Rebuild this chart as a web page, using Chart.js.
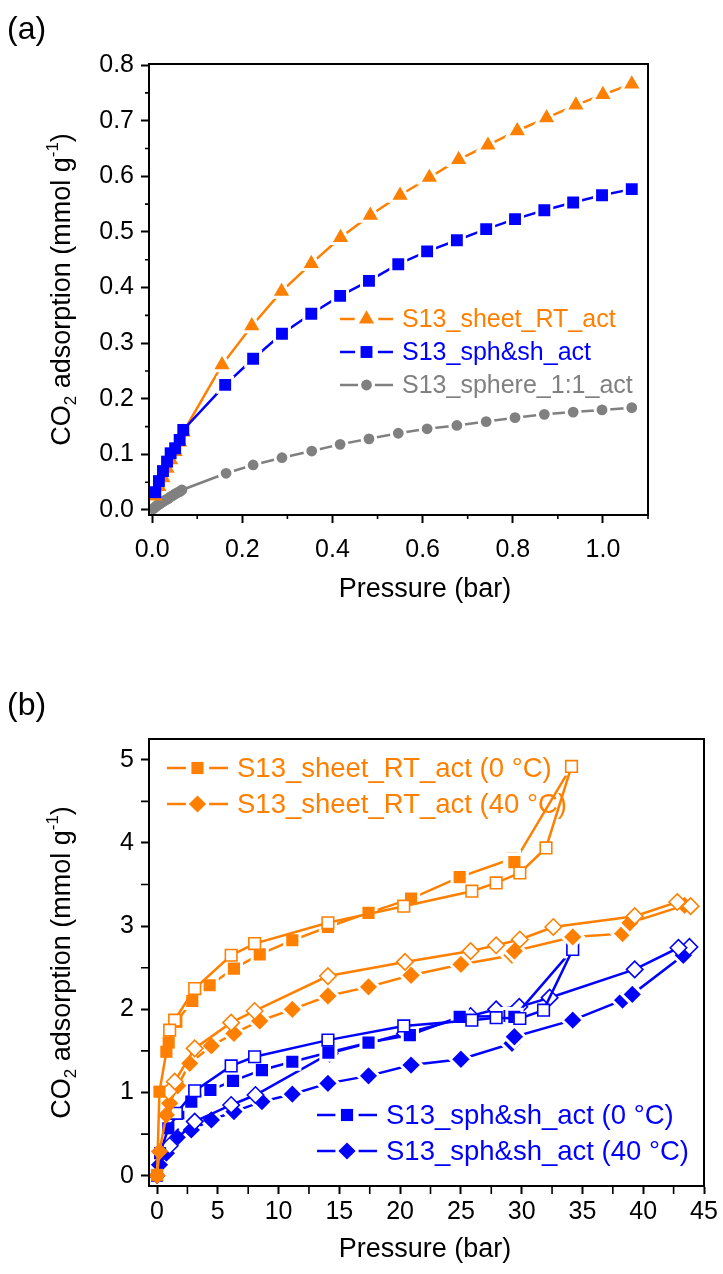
<!DOCTYPE html>
<html>
<head>
<meta charset="utf-8">
<script src="https://cdn.jsdelivr.net/npm/chart.js@4.4.1/dist/chart.umd.min.js"></script>
<style>
  html, body { margin: 0; padding: 0; background: #fff; }
  canvas { position: absolute; left: 0; }
  #chartA { top: 0; }
  #chartB { top: 650px; }
</style>
</head>
<body>
<canvas id="chartA" width="723" height="650"></canvas>
<canvas id="chartB" width="723" height="624"></canvas>
<script>
const FONT = "'Liberation Sans', Arial, Helvetica, sans-serif";
const ORANGE = '#ff8000';
const BLUE = '#0000ff';
const GREY = '#808080';

// ---------- (a) room temperature, 0-1 bar ----------
const sheetP = [0.007, 0.015, 0.024, 0.033, 0.041, 0.051, 0.061, 0.069, 0.155, 0.221, 0.287, 0.353, 0.418, 0.484, 0.55, 0.615, 0.68, 0.745, 0.81, 0.875, 0.94, 1.0, 1.064];
const sheetQ = [0.025, 0.042, 0.058, 0.075, 0.09, 0.105, 0.122, 0.14, 0.261, 0.331, 0.393, 0.443, 0.49, 0.53, 0.566, 0.598, 0.63, 0.656, 0.682, 0.705, 0.728, 0.747, 0.766];
const sphShP = [0.007, 0.015, 0.024, 0.033, 0.041, 0.051, 0.061, 0.069, 0.162, 0.224, 0.288, 0.353, 0.417, 0.481, 0.546, 0.61, 0.676, 0.741, 0.805, 0.87, 0.934, 0.998, 1.064];
const sphShQ = [0.032, 0.052, 0.07, 0.087, 0.102, 0.111, 0.126, 0.144, 0.225, 0.272, 0.317, 0.353, 0.385, 0.412, 0.442, 0.465, 0.485, 0.505, 0.523, 0.539, 0.553, 0.566, 0.577];
const sphereP = [0.002, 0.005, 0.008, 0.011, 0.014, 0.017, 0.02, 0.024, 0.028, 0.032, 0.036, 0.041, 0.046, 0.051, 0.056, 0.061, 0.066, 0.164, 0.224, 0.288, 0.354, 0.417, 0.481, 0.546, 0.61, 0.676, 0.741, 0.805, 0.87, 0.934, 0.998, 1.064];
const sphereQ = [0.002, 0.004, 0.006, 0.008, 0.01, 0.011, 0.013, 0.015, 0.017, 0.019, 0.021, 0.024, 0.026, 0.029, 0.031, 0.033, 0.036, 0.066, 0.081, 0.094, 0.106, 0.118, 0.128, 0.138, 0.146, 0.152, 0.159, 0.166, 0.172, 0.176, 0.18, 0.184];
const aXTicks = [0, 0.2, 0.4, 0.6, 0.8, 1.0];
const aXMinor = [0.1, 0.3, 0.5, 0.7, 0.9, 1.1];
const aYTicks = [0, 0.1, 0.2, 0.3, 0.4, 0.5, 0.6, 0.7, 0.8];
const aYMinor = [0.05, 0.15, 0.25, 0.35, 0.45, 0.55, 0.65, 0.75];

// ---------- (b) high pressure, 0 and 40 C (filled = ads, open = des) ----------
const sheet0AdsP = [0, 0.2, 0.77, 0.96, 1.59, 2.9, 4.33, 6.33, 8.45, 11.13, 14.06, 17.4, 20.9, 24.9, 29.2, 29.4, 34.1];
const sheet0AdsQ = [0.01, 1.01, 1.49, 1.6, 1.85, 2.1, 2.29, 2.49, 2.66, 2.83, 2.99, 3.16, 3.33, 3.59, 3.81, 3.77, 4.92];
const sheet0DesP = [34.1, 32.0, 29.85, 27.9, 25.9, 20.3, 14.06, 8.03, 6.1, 3.1, 1.45, 1.04];
const sheet0DesQ = [4.92, 3.94, 3.64, 3.52, 3.42, 3.24, 3.04, 2.79, 2.65, 2.25, 1.87, 1.75];
const sheet40AdsP = [0, 0.2, 0.77, 1.04, 1.7, 2.69, 4.47, 6.33, 8.45, 11.13, 14.06, 17.4, 20.9, 25.0, 29.2, 29.4, 34.2, 38.3, 38.9, 43.4];
const sheet40AdsQ = [0.0, 0.29, 0.73, 0.87, 1.08, 1.35, 1.56, 1.71, 1.86, 2.0, 2.16, 2.27, 2.41, 2.54, 2.65, 2.7, 2.87, 2.91, 3.04, 3.25];
const sheet40DesP = [43.9, 42.8, 39.3, 32.6, 29.85, 27.9, 25.8, 20.4, 14.06, 8.03, 6.1, 3.1, 1.45, 0.96];
const sheet40DesQ = [3.24, 3.29, 3.12, 2.99, 2.84, 2.77, 2.7, 2.57, 2.4, 1.98, 1.84, 1.53, 1.13, 1.01];
const sph0AdsP = [0, 0.25, 0.93, 1.75, 2.82, 4.39, 6.25, 8.63, 11.13, 14.1, 17.4, 20.8, 24.9, 29.0, 29.4, 34.2];
const sph0AdsQ = [0.0, 0.27, 0.57, 0.75, 0.89, 1.03, 1.14, 1.27, 1.37, 1.48, 1.6, 1.69, 1.91, 1.92, 1.91, 2.72];
const sph0DesP = [34.2, 31.8, 29.85, 27.9, 25.9, 20.3, 14.06, 8.03, 6.1, 3.1, 1.59];
const sph0DesQ = [2.72, 1.99, 1.89, 1.9, 1.87, 1.8, 1.63, 1.43, 1.32, 1.02, 0.75];
const sph40AdsP = [0, 0.2, 0.77, 1.73, 2.82, 4.47, 6.33, 8.63, 11.13, 14.06, 17.4, 20.9, 25.0, 29.2, 29.4, 34.2, 38.3, 39.1, 43.3];
const sph40AdsQ = [0.0, 0.13, 0.27, 0.47, 0.55, 0.67, 0.77, 0.89, 0.98, 1.11, 1.2, 1.33, 1.4, 1.59, 1.67, 1.87, 2.11, 2.18, 2.65];
const sph40DesP = [43.8, 42.9, 39.3, 32.3, 29.8, 27.9, 25.8, 20.4, 14.2, 8.1, 6.1, 3.1, 1.04];
const sph40DesQ = [2.75, 2.74, 2.48, 2.14, 2.03, 2.0, 1.92, 1.71, 1.47, 0.97, 0.85, 0.65, 0.36];
const bXTicks = [0, 5, 10, 15, 20, 25, 30, 35, 40, 45];
const bXMinor = [2.5, 7.5, 12.5, 17.5, 22.5, 27.5, 32.5, 37.5, 42.5];
const bYTicks = [0, 1, 2, 3, 4, 5];
const bYMinor = [0.5, 1.5, 2.5, 3.5, 4.5];

const pts = (xs, ys) => xs.map((x, i) => ({ x: x, y: ys[i] }));

// white halo round filled markers gives the origin-style gap in the line;
// left off where points crowd together at low pressure
const HALO = 3;
function grow(shape, r) {
  if (shape === 'triangle') return r + HALO;
  if (shape === 'circle') return r + HALO / 2;
  return r + HALO * 0.707;
}
function marker(color, shape, r, hollow, crowdBelow) {
  if (hollow) {
    return { pointStyle: shape, pointRadius: r, pointBackgroundColor: '#fff',
             pointBorderColor: color, pointBorderWidth: 1.6 };
  }
  const crowded = c => c.raw && c.raw.x < crowdBelow;
  return { pointStyle: shape,
           pointRadius: c => crowded(c) ? r : grow(shape, r),
           pointBackgroundColor: color, pointBorderColor: '#fff',
           pointBorderWidth: c => crowded(c) ? 0 : HALO };
}
function series(data, color, shape, r, hollow, crowdBelow) {
  return Object.assign({ data: data, showLine: true, borderColor: color, borderWidth: 2.5,
                         clip: false, pointHoverRadius: 0 },
                       marker(color, shape, r, hollow, crowdBelow));
}

function drawLegendRow(ctx, x0, x1, y, color, shape, r, label, size) {
  ctx.save();
  ctx.strokeStyle = color;
  ctx.lineWidth = 2.5;
  const mid = (x0 + x1) / 2;
  const gap = r + 3;
  ctx.beginPath();
  ctx.moveTo(x0, y); ctx.lineTo(mid - gap, y);
  ctx.moveTo(mid + gap, y); ctx.lineTo(x1, y);
  ctx.stroke();
  ctx.fillStyle = color;
  Chart.helpers.drawPoint(ctx, { pointStyle: shape, radius: r, rotation: 0, borderWidth: 0 }, mid, y);
  ctx.font = size + 'px ' + FONT;
  ctx.textBaseline = 'middle';
  ctx.textAlign = 'left';
  ctx.fillText(label, x1 + 9, y + 1);
  ctx.restore();
}

function drawYTitle(ctx, cx, cy, size) {
  const parts = [['CO', 0], ['2', 1], [' adsorption (mmol g', 0], ['-1', -1], [')', 0]];
  ctx.save();
  ctx.translate(cx, cy);
  ctx.rotate(-Math.PI / 2);
  ctx.fillStyle = '#000';
  ctx.textBaseline = 'alphabetic';
  ctx.textAlign = 'left';
  const fontOf = p => (p[1] ? Math.round(size * 0.62) : size) + 'px ' + FONT;
  let total = 0;
  parts.forEach(p => { ctx.font = fontOf(p); total += ctx.measureText(p[0]).width; });
  let x = -total / 2;
  const base = size * 0.36;
  parts.forEach(p => {
    ctx.font = fontOf(p);
    const dy = p[1] === 1 ? size * 0.22 : (p[1] === -1 ? -size * 0.42 : 0);
    ctx.fillText(p[0], x, base + dy);
    x += ctx.measureText(p[0]).width;
  });
  ctx.restore();
}

const decorPlugin = {
  id: 'decor',
  afterDraw(chart, args, o) {
    const ctx = chart.ctx;
    const a = chart.chartArea;
    const xs = chart.scales.x, ys = chart.scales.y;
    ctx.save();
    ctx.strokeStyle = '#000';
    ctx.lineWidth = 2;
    ctx.strokeRect(a.left, a.top, a.right - a.left, a.bottom - a.top);
    ctx.lineWidth = 1.6;
    ctx.beginPath();
    o.xMinor.forEach(v => {
      const px = xs.getPixelForValue(v);
      ctx.moveTo(px, a.bottom); ctx.lineTo(px, a.bottom + o.minorLen);
    });
    o.yMinor.forEach(v => {
      const py = ys.getPixelForValue(v);
      ctx.moveTo(a.left, py); ctx.lineTo(a.left - o.minorLen, py);
    });
    ctx.stroke();
    ctx.fillStyle = '#000';
    ctx.font = '32px ' + FONT;
    ctx.textBaseline = 'middle';
    ctx.textAlign = 'left';
    ctx.fillText(o.panel, 7, o.panelY);
    ctx.font = '27px ' + FONT;
    ctx.textAlign = 'center';
    ctx.fillText('Pressure (bar)', o.xTitleX, o.xTitleY);
    drawYTitle(ctx, o.yTitleX, (a.top + a.bottom) / 2, 27);
    o.legend.forEach(e => drawLegendRow(ctx, e.x0, e.x1, e.y, e.color, e.shape, e.r, e.label, o.legSize));
    ctx.restore();
  }
};

function axes(xTicks, yTicks, xr, yr, yWidth, xHeight, xPad, fmt) {
  const grid = { drawOnChartArea: false, drawTicks: true, tickLength: 8, tickWidth: 2, tickColor: '#000' };
  const tickFont = { family: FONT, size: 25 };
  return {
    x: {
      type: 'linear', min: xr[0], max: xr[1],
      grid: grid, border: { display: true, color: '#000', width: 2 },
      afterBuildTicks: s => { s.ticks = xTicks.map(v => ({ value: v })); },
      afterFit: s => { s.height = xHeight; },
      ticks: { font: tickFont, color: '#000', padding: xPad, autoSkip: false, maxRotation: 0, callback: fmt }
    },
    y: {
      type: 'linear', min: yr[0], max: yr[1],
      grid: grid, border: { display: true, color: '#000', width: 2 },
      afterBuildTicks: s => { s.ticks = yTicks.map(v => ({ value: v })); },
      afterFit: s => { s.width = yWidth; },
      ticks: { font: tickFont, color: '#000', padding: 7, autoSkip: false, callback: fmt }
    }
  };
}

const base = {
  responsive: false,
  animation: false,
  events: [],
  plugins: { legend: { display: false }, tooltip: { enabled: false } }
};

// chart (a)
new Chart(document.getElementById('chartA'), {
  type: 'scatter',
  data: {
    datasets: [
      series(pts(sphShP, sphShQ), BLUE, 'rect', 8.4, false, 0.1),
      series(pts(sheetP, sheetQ), ORANGE, 'triangle', 8.8, false, 0.1),
      series(pts(sphereP, sphereQ), GREY, 'circle', 5.4, false, 0.1)
    ]
  },
  options: Object.assign({}, base, {
    layout: { padding: { top: 64, right: 75, left: 0, bottom: 0 } },
    scales: axes(aXTicks, aYTicks, [-0.007, 1.1], [-0.009, 0.802], 149, 135, 12, v => v.toFixed(1)),
    plugins: Object.assign({}, base.plugins, {
      decor: {
        panel: '(a)', panelY: 30, minorLen: 4,
        xMinor: aXMinor, yMinor: aYMinor,
        xTitleX: 425, xTitleY: 590, yTitleX: 60, legSize: 25,
        legend: [
          { x0: 340, x1: 393, y: 319, color: ORANGE, shape: 'triangle', r: 8.8, label: 'S13_sheet_RT_act' },
          { x0: 340, x1: 393, y: 352, color: BLUE, shape: 'rect', r: 8.4, label: 'S13_sph&sh_act' },
          { x0: 340, x1: 393, y: 385, color: GREY, shape: 'circle', r: 5.4, label: 'S13_sphere_1:1_act' }
        ]
      }
    })
  }),
  plugins: [decorPlugin]
});

// chart (b)
new Chart(document.getElementById('chartB'), {
  type: 'scatter',
  data: {
    datasets: [
      series(pts(sheet0DesP, sheet0DesQ), ORANGE, 'rect', 8.2, true, 0),
      series(pts(sheet0AdsP, sheet0AdsQ), ORANGE, 'rect', 8.6, false, 1.8),
      series(pts(sheet40DesP, sheet40DesQ), ORANGE, 'rectRot', 8.2, true, 0),
      series(pts(sheet40AdsP, sheet40AdsQ), ORANGE, 'rectRot', 8.6, false, 1.8),
      series(pts(sph0DesP, sph0DesQ), BLUE, 'rect', 8.2, true, 0),
      series(pts(sph0AdsP, sph0AdsQ), BLUE, 'rect', 8.6, false, 1.8),
      series(pts(sph40DesP, sph40DesQ), BLUE, 'rectRot', 8.2, true, 0),
      series(pts(sph40AdsP, sph40AdsQ), BLUE, 'rectRot', 8.6, false, 1.8)
    ]
  },
  options: Object.assign({}, base, {
    layout: { padding: { top: 89, right: 19, left: 0, bottom: 0 } },
    scales: axes(bXTicks, bYTicks, [-0.66, 45], [-0.124, 5.25], 149, 88, 3, v => String(v)),
    plugins: Object.assign({}, base.plugins, {
      decor: {
        panel: '(b)', panelY: 56, minorLen: 8,
        xMinor: bXMinor, yMinor: bYMinor,
        xTitleX: 425, xTitleY: 600, yTitleX: 60, legSize: 27.5,
        legend: [
          { x0: 167, x1: 228, y: 118, color: ORANGE, shape: 'rect', r: 8.6, label: 'S13_sheet_RT_act (0 \u00b0C)' },
          { x0: 167, x1: 228, y: 154, color: ORANGE, shape: 'rectRot', r: 8.6, label: 'S13_sheet_RT_act (40 \u00b0C)' },
          { x0: 317, x1: 377, y: 465, color: BLUE, shape: 'rect', r: 8.6, label: 'S13_sph&sh_act (0 \u00b0C)' },
          { x0: 317, x1: 377, y: 501, color: BLUE, shape: 'rectRot', r: 8.6, label: 'S13_sph&sh_act (40 \u00b0C)' }
        ]
      }
    })
  }),
  plugins: [decorPlugin]
});
</script>
</body>
</html>
